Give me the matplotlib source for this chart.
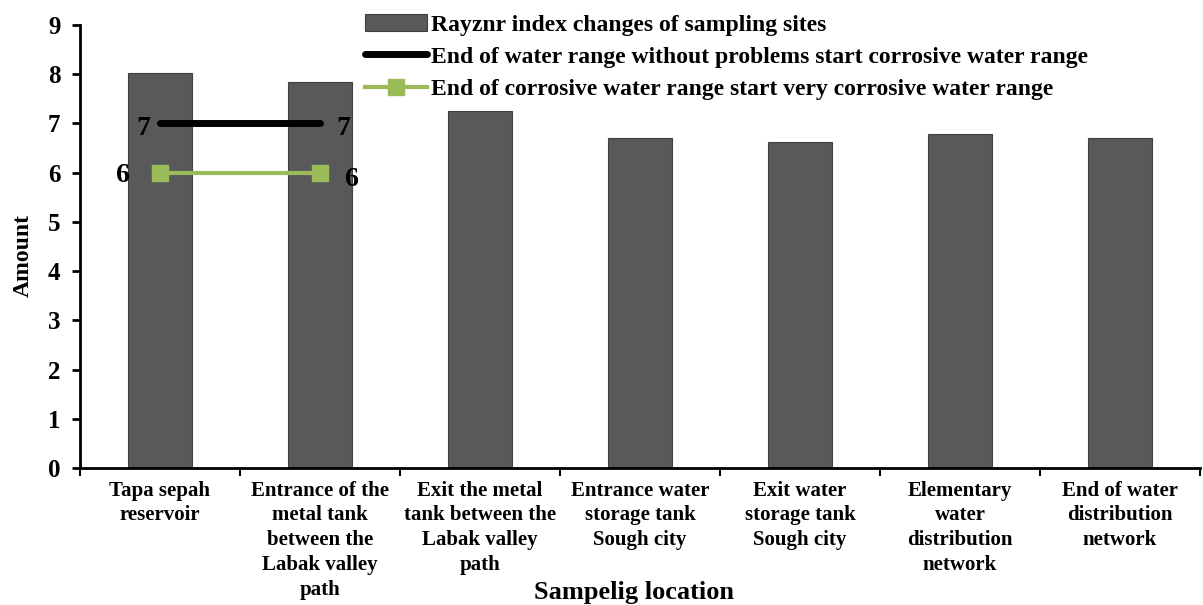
import matplotlib
matplotlib.use('Agg')
import matplotlib.pyplot as plt
import numpy as np

# data
sites = ['Tapa sepah\nreservoir',
         'Entrance of the\nmetal tank\nbetween the\nLabak valley\npath',
         'Exit the metal\ntank between the\nLabak valley\npath',
         'Entrance water\nstorage tank\nSough city',
         'Exit water\nstorage tank\nSough city',
         'Elementary\nwater\ndistribution\nnetwork',
         'End of water\ndistribution\nnetwork']
rayznr = [8.03, 7.83, 7.24, 6.71, 6.63, 6.79, 6.70]
limit_corrosive = [7, 7]
limit_very_corrosive = [6, 6]

plt.rcParams['font.family'] = ['Liberation Serif', 'DejaVu Serif']
plt.rcParams['font.weight'] = 'bold'

fig = plt.figure(figsize=(12.03, 6.05), dpi=100)
ax = fig.add_axes([0.0665, 0.2264, 0.931, 0.7326])

x = np.arange(len(sites))
bars = ax.bar(x, rayznr, width=0.4, color='#595959', edgecolor='#404040', linewidth=0.8,
              label='Rayznr index changes of sampling sites', zorder=2)
l1, = ax.plot(x[:2], limit_corrosive, color='black', linewidth=5, solid_capstyle='round',
              label='End of water range without problems start corrosive water range', zorder=3)
l2, = ax.plot(x[:2], limit_very_corrosive, color='#9BBB59', linewidth=3, marker='s',
              markersize=11, label='End of corrosive water range start very corrosive water range',
              zorder=3)

# end labels
for i, v in enumerate(limit_corrosive):
    dx = -12 if i == 0 else 17
    ax.annotate(str(v), (x[i], v), xytext=(dx, -4), textcoords='offset points',
                ha='center', va='center', fontsize=20, fontweight='bold')
for i, v in enumerate(limit_very_corrosive):
    dx = -27 if i == 0 else 23
    dy = -2 if i == 0 else -5
    ax.annotate(str(v), (x[i], v), xytext=(dx, dy), textcoords='offset points',
                ha='center', va='center', fontsize=20, fontweight='bold')

ax.set_xlim(-0.5, len(sites) - 0.5)
ax.set_ylim(0, 9)
ax.set_yticks(range(0, 10))
ax.tick_params(axis='y', labelsize=18, width=2, length=6, direction='out', pad=8)
ax.set_xticks(x)
ax.set_xticklabels(sites, fontsize=15, fontweight='bold', linespacing=1.33)
ax.tick_params(axis='x', length=0, pad=9)
ax.set_xticks(np.arange(-0.5, len(sites), 1), minor=True)
ax.tick_params(axis='x', which='minor', length=6, width=1.5, direction='out')

for s in ['top', 'right']:
    ax.spines[s].set_visible(False)
for s in ['left', 'bottom']:
    ax.spines[s].set_linewidth(2)

ax.set_ylabel('Amount', fontsize=17, fontweight='bold')
ax.yaxis.set_label_coords(-0.041, 0.48)
ax.set_xlabel('Sampelig location', fontsize=19, fontweight='bold')
ax.xaxis.set_label_coords(0.495, -0.255)

leg = fig.legend([bars, l1, l2], [bars.get_label(), l1.get_label(), l2.get_label()],
                 loc='upper left', bbox_to_anchor=(0.286, 1.012), frameon=False,
                 handlelength=2.6, handletextpad=0.2, labelspacing=0.45,
                 prop={'weight': 'bold', 'size': 17})

fig.savefig('out.png', dpi=100)
